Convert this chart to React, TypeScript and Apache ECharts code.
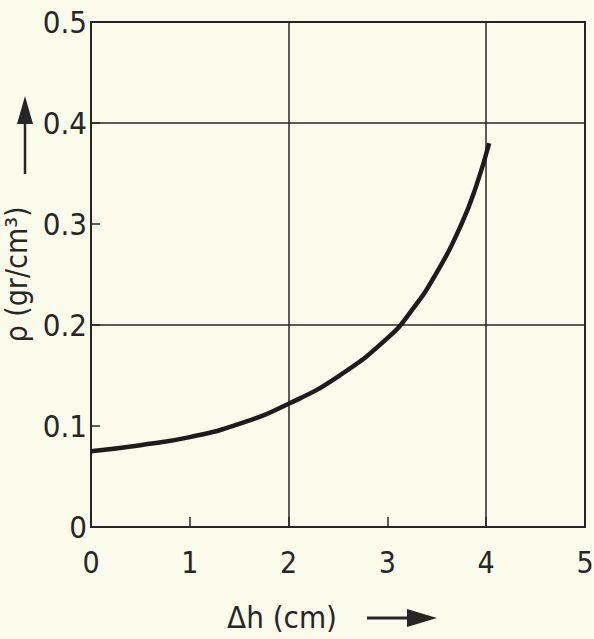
import React, { useEffect, useRef } from "react";
import * as echarts from "echarts";

const dhValues = [0, 0.5, 1, 1.5, 2, 2.5, 3, 3.25, 3.5, 3.75, 3.9, 4.03];
const rhoValues = [0.075, 0.081, 0.089, 0.102, 0.122, 0.149, 0.187, 0.215, 0.252, 0.3, 0.338, 0.38];
const xTickLabels = ["0", "1", "2", "3", "4", "5"];
const yTickLabels = ["0", "0.1", "0.2", "0.3", "0.4", "0.5"];
const xName = "Δh (cm)";
const yName = "ρ (gr/cm³)";

const FONT = "'Liberation Sans Narrow', 'DejaVu Sans Condensed', 'DejaVu Sans', sans-serif";
const INK = "#262626";

export default function App() {
  const ref = useRef<HTMLDivElement>(null);
  useEffect(() => {
    if (!ref.current) return;
    const chart = echarts.init(ref.current, undefined, { renderer: "svg" });
    const points = dhValues.map((x, i) => [x, rhoValues[i]]);
    chart.setOption({
      animation: false,
      backgroundColor: "#fbfbec",
      grid: {
        left: 91,
        top: 22,
        right: 9,
        bottom: 112,
        outerBoundsMode: "none",
        containLabel: false,
        show: true,
        borderColor: INK,
        borderWidth: 2,
        backgroundColor: "transparent",
      },
      xAxis: [
        {
          type: "value",
          min: 0,
          max: 5,
          interval: 1,
          name: xName,
          nameLocation: "middle",
          nameGap: 74,
          nameTextStyle: { fontFamily: FONT, fontSize: 31, color: INK, padding: [0, 112, 0, 0] },
          axisLine: { show: true, lineStyle: { color: INK, width: 2 } },
          axisTick: { show: true, inside: true, length: 10, lineStyle: { color: INK, width: 1.5 } },
          axisLabel: {
            fontFamily: FONT,
            fontSize: 30,
            color: INK,
            margin: 20,
            formatter: (v: number) => xTickLabels[Math.round(v)] ?? "",
          },
          splitLine: { show: false },
        },
        {
          type: "value",
          min: 0,
          max: 5,
          interval: 2,
          position: "bottom",
          axisLine: { show: false },
          axisTick: { show: false },
          axisLabel: { show: false },
          splitLine: { show: true, lineStyle: { color: INK, width: 1.5 } },
        },
      ],
      yAxis: [
        {
          type: "value",
          min: 0,
          max: 0.5,
          interval: 0.1,
          name: yName,
          nameLocation: "middle",
          nameRotate: 90,
          nameGap: 50,
          nameTextStyle: { fontFamily: FONT, fontSize: 30, color: INK },
          axisLine: { show: true, lineStyle: { color: INK, width: 2 } },
          axisTick: { show: true, inside: true, length: 9, lineStyle: { color: INK, width: 1.5 } },
          axisLabel: {
            fontFamily: FONT,
            fontSize: 31,
            color: INK,
            margin: 4,
            formatter: (v: number) => yTickLabels[Math.round(v * 10)] ?? "",
          },
          splitLine: { show: false },
        },
        {
          type: "value",
          min: 0,
          max: 0.5,
          interval: 0.2,
          position: "left",
          axisLine: { show: false },
          axisTick: { show: false },
          axisLabel: { show: false },
          splitLine: { show: true, lineStyle: { color: INK, width: 1.5 } },
        },
      ],
      graphic: [
        {
          type: "line",
          shape: { x1: 25, y1: 174, x2: 25, y2: 118 },
          style: { stroke: INK, lineWidth: 2.5 },
        },
        {
          type: "polygon",
          shape: { points: [[17, 124], [25, 96], [33, 124]] },
          style: { fill: INK },
        },
        {
          type: "line",
          shape: { x1: 367, y1: 618, x2: 412, y2: 618 },
          style: { stroke: INK, lineWidth: 3 },
        },
        {
          type: "polygon",
          shape: { points: [[407, 609], [437, 618], [407, 627]] },
          style: { fill: INK },
        },
      ],
      series: [
        {
          type: "line",
          xAxisIndex: 0,
          yAxisIndex: 0,
          data: points,
          smooth: 0.5,
          showSymbol: false,
          symbol: "none",
          lineStyle: { color: "#1c1c1c", width: 4.5 },
        },
      ],
    });
    return () => chart.dispose();
  }, []);
  return (
    <div
      ref={ref}
      style={{ position: "absolute", left: 0, top: 0, width: 594, height: 639 }}
    />
  );
}
